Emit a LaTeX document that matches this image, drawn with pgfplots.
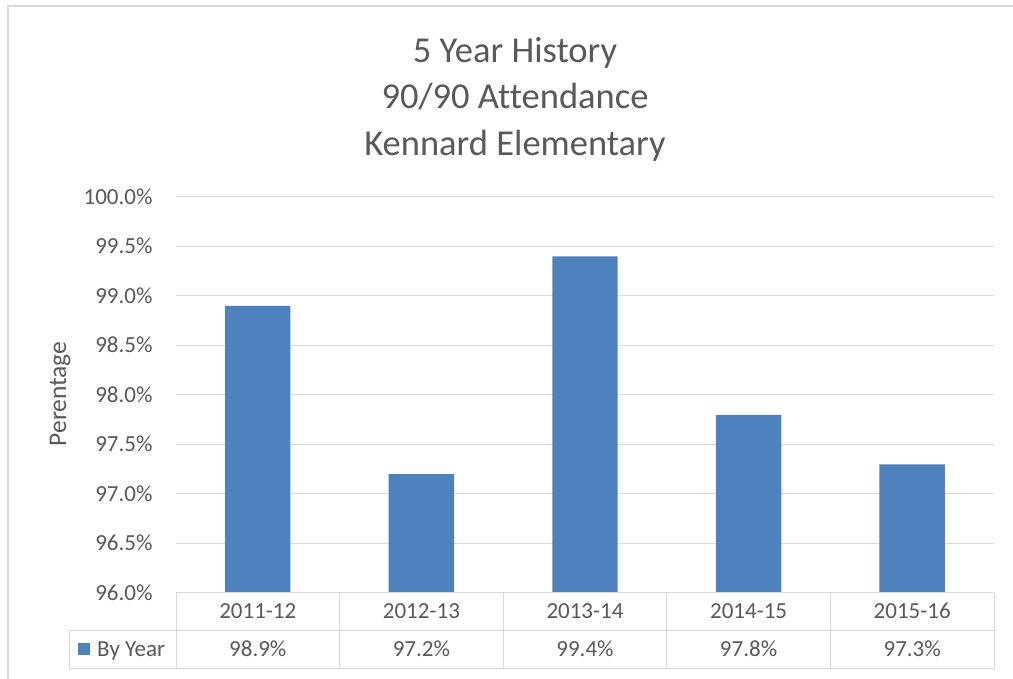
\documentclass[border=0pt]{standalone}
\usepackage{pgfplots}
\pgfplotsset{compat=1.18}
\usepackage{fontspec}
\setmainfont{Carlito}[Ligatures=NoCommon]
\definecolor{txt}{HTML}{595959}
\definecolor{grd}{HTML}{D9D9D9}
\definecolor{barc}{HTML}{4F81BD}
\newcommand{\tf}{\fontsize{23}{27}\selectfont}
\begin{document}
\begin{tikzpicture}[x=1pt,y=1pt]
\useasboundingbox (0,0) rectangle (1013,679);
\fill[white] (0,0) rectangle (1013,679);
\draw[grd, line width=2pt] (8,0) -- (8,673) -- (1013,673);
% title
\node[anchor=base, inner sep=0, text=txt, font=\fontsize{36.5}{42}\selectfont] at (515,616) {5 Year History};
\node[anchor=base, inner sep=0, text=txt, font=\fontsize{36.5}{42}\selectfont] at (515,570) {90/90 Attendance};
\node[anchor=base, inner sep=0, text=txt, font=\fontsize{36.5}{42}\selectfont] at (515,523) {Kennard Elementary};
% y label
\node[anchor=base, rotate=90, inner sep=0, text=txt, font=\fontsize{25.5}{30}\selectfont] at (66,285) {Perentage};
\begin{axis}[
  at={(176pt,86pt)}, anchor=south west,
  scale only axis, width=818pt, height=396pt,
  xmin=0, xmax=5, ymin=96, ymax=100,
  ytick={96,96.5,97,97.5,98,98.5,99,99.5,100},
  /pgf/number format/assume math mode=true,
  yticklabel={\pgfmathprintnumber[fixed,fixed zerofill,precision=1]{\tick}\%},
  yticklabel style={anchor=base east, inner sep=0pt, xshift=-23.3pt, yshift=-7.3pt, text=txt, font=\tf},
  xtick=\empty,
  ymajorgrids, major grid style={grd, line width=1pt},
  axis line style={draw=none},
  major tick length=0pt,
  ybar, bar width=65.4pt,
]
\addplot[fill=barc, draw=none] coordinates {(0.5,98.9) (1.5,97.2) (2.5,99.4) (3.5,97.8) (4.5,97.3)};
\end{axis}
% data table
\begin{scope}[grd, line width=1pt]
\draw (176,86) -- (994,86);
\draw (69,48) -- (994,48);
\draw (69,10) -- (994,10);
\draw (69,48) -- (69,10);
\foreach \x in {176,339.6,503.2,666.8,830.4,994} \draw (\x,86) -- (\x,10);
\end{scope}
\foreach \x/\c/\v in {257.8/2011-12/98.9\%, 421.4/2012-13/97.2\%, 585/2013-14/99.4\%, 748.6/2014-15/97.8\%, 912.2/2015-16/97.3\%}{
  \node[anchor=base, inner sep=0, text=txt, font=\tf] at (\x,60) {\c};
  \node[anchor=base, inner sep=0, text=txt, font=\tf] at (\x,22) {\v};
}
\fill[barc] (78,24) rectangle (90,36);
\node[anchor=base west, inner sep=0, text=txt, font=\tf] at (97,22) {By Year};
\end{tikzpicture}
\end{document}
